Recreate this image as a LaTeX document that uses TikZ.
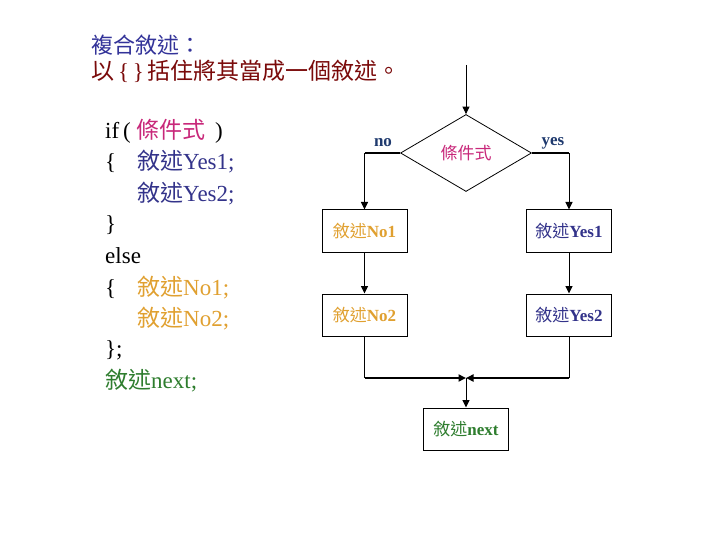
\documentclass[tikz,border=0pt]{standalone}
\usepackage{fontspec}
\setmainfont{Liberation Serif}
\newfontfamily\cjk{Noto Sans CJK TC}
\newcommand\zh[1]{{\cjk\mdseries #1}}
\usetikzlibrary{arrows.meta,shapes.geometric}

\begin{document}
\begin{tikzpicture}[x=1pt, y=-1pt,
    flow/.style={-{Triangle[length=7.5pt,width=7pt]}, line width=1pt},
    bar/.style={line width=2.6pt},
    stmt/.style={draw, line width=1pt, minimum width=85pt, minimum height=42pt, inner sep=0pt,
                 font=\fontsize{17}{20}\selectfont\bfseries},
    code/.style={anchor=west, inner sep=0pt, font=\fontsize{23}{28}\selectfont},
    lbl/.style={font=\fontsize{17}{20}\selectfont\bfseries, text=lblc, inner sep=0pt}]
    % -------- 顏色 --------
    \definecolor{titlec}{HTML}{333399}
    \definecolor{subc}{HTML}{7A0A0A}
    \definecolor{condc}{HTML}{C8287A}
    \definecolor{yesc}{HTML}{33338A}
    \definecolor{noc}{HTML}{E0A030}
    \definecolor{nextc}{HTML}{2E7D2E}
    \definecolor{lblc}{HTML}{1F3A6E}

    \useasboundingbox (0,0) rectangle (720,540);

    % ======== 標題 ========
    \node[anchor=west, inner sep=0pt, font=\fontsize{22}{26}\selectfont, text=titlec]
        (title) at (91,45) {\zh{複合敘述：}};
    \node[anchor=west, inner sep=0pt, font=\fontsize{23}{27}\selectfont, text=subc]
        (sub) at (91,71) {\zh{以}\,\{\,\}\,\zh{括住將其當成一個敘述。}};

    % ======== 程式碼 ========
    \node[code] (c0) at (105,131) {if\,( \textcolor{condc}{\zh{條件式}}\, )};
    \node[code] (c1) at (105,162) {\makebox[32pt][l]{\{}\textcolor{yesc}{\zh{敘述}Yes1;}};
    \node[code] (c2) at (105,194) {\hspace*{32pt}\textcolor{yesc}{\zh{敘述}Yes2;}};
    \node[code] (c3) at (105,225) {\}};
    \node[code] (c4) at (105,256) {else};
    \node[code] (c5) at (105,288) {\makebox[32pt][l]{\{}\textcolor{noc}{\zh{敘述}No1;}};
    \node[code] (c6) at (105,319) {\hspace*{32pt}\textcolor{noc}{\zh{敘述}No2;}};
    \node[code] (c7) at (105,350) {\};};
    \node[code] (c8) at (105,381) {\textcolor{nextc}{\zh{敘述}next;}};

    % ======== 流程圖 ========
    \coordinate (top) at (466,65);
    \node[diamond, draw, line width=0.8pt, aspect=1.7, minimum width=131pt, minimum height=77pt,
          inner sep=0pt, text=condc, font=\fontsize{17}{20}\selectfont] (cond) at (466,153) {\zh{條件式}};
    \node[stmt, text=noc]   (noA)  at (364.5,231) {\zh{敘述}No1};
    \node[stmt, text=yesc]  (yesA) at (569,231)   {\zh{敘述}Yes1};
    \node[stmt, text=noc]   (noB)  at (364.5,315) {\zh{敘述}No2};
    \node[stmt, text=yesc]  (yesB) at (569,315)   {\zh{敘述}Yes2};
    \node[stmt, text=nextc] (nxt)  at (466,429)   {\zh{敘述}next};
    \coordinate (m) at (466,378);

    % 分支標籤
    \node[lbl] (nolbl)  at (383,143) {no};
    \node[lbl] (yeslbl) at (553,143) {yes};

    % 進入條件
    \draw[flow] (top) -- (cond.north);

    % no 分支
    \draw[bar] (cond.west) -- (cond.west -| noA.north);
    \draw[flow] (cond.west -| noA.north) -- (noA.north);
    \draw[flow] (noA) -- (noB);

    % yes 分支
    \draw[bar] (cond.east) -- (cond.east -| yesA.north);
    \draw[flow] (cond.east -| yesA.north) -- (yesA.north);
    \draw[flow] (yesA) -- (yesB);

    % 匯合
    \draw[line width=1pt] (noB.south) -- (noB.south |- m);
    \draw[flow, bar] (noB.south |- m) -- (m);
    \draw[line width=1pt] (yesB.south) -- (yesB.south |- m);
    \draw[flow, bar] (yesB.south |- m) -- (m);
    \draw[flow] (m) -- (nxt.north);
\end{tikzpicture}
\end{document}
